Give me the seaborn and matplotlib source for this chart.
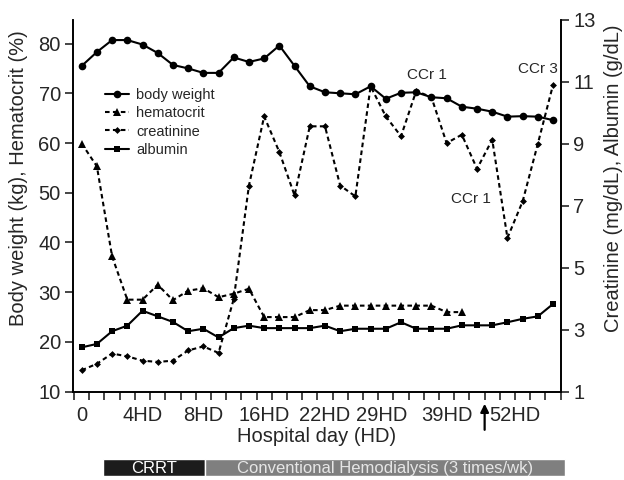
import matplotlib
matplotlib.use("Agg")
import matplotlib.pyplot as plt
import seaborn as sns

# hospital day index (one point per measurement)
day = list(range(32))

body_weight = [75.5, 78.3, 80.7, 80.7, 79.8, 78.1, 75.7, 75.0, 74.1, 74.1, 77.2, 76.3,
               77.0, 79.6, 75.5, 71.4, 70.2, 70.0, 69.8, 71.4, 68.9, 70.1, 70.2, 69.2,
               69.0, 67.3, 66.9, 66.3, 65.3, 65.4, 65.3, 64.6]
hematocrit = [59.9, 55.3, 37.2, 28.5, 28.5, 31.5, 28.4, 30.3, 30.8, 29.0, 29.7, 30.7,
              25.0, 25.0, 25.0, 26.4, 26.4, 27.3, 27.3, 27.3, 27.3, 27.3, 27.3, 27.3,
              26.0, 26.0]
creatinine = [1.69, 1.90, 2.23, 2.14, 2.00, 1.96, 2.00, 2.33, 2.46, 2.25, 3.99, 7.65,
              9.88, 8.73, 7.33, 9.56, 9.56, 7.65, 7.30, 10.85, 9.88, 9.24, 10.70, 10.50,
              9.02, 9.29, 8.19, 9.13, 5.96, 7.14, 9.00, 10.90]
albumin = [2.43, 2.54, 2.95, 3.13, 3.61, 3.43, 3.25, 2.95, 3.03, 2.75, 3.05, 3.13,
           3.05, 3.05, 3.05, 3.05, 3.13, 2.95, 3.03, 3.03, 3.03, 3.24, 3.03, 3.03,
           3.03, 3.14, 3.14, 3.14, 3.24, 3.35, 3.43, 3.83]

# x tick labels (hand placed in the original)
tick_pos = [0, 4, 8, 12, 16, 19.75, 24, 28.5]
tick_labels = ["0", "4HD", "8HD", "16HD", "22HD", "29HD", "39HD", "52HD"]
arrow_day = 26.5

# CCr notes (day index, creatinine scale value)
ccr_labels = ["CCr 1", "CCr 1", "CCr 3"]
ccr_day = [22.7, 25.6, 30.0]
ccr_value = [11.2, 7.2, 11.4]

# treatment bar below the axis
phases = ["CRRT", "Conventional Hemodialysis (3 times/wk)"]
phase_start = [1.38, 8.1]
phase_end = [8.1, 31.8]
phase_colors = ["#1c1c1c", "#7f7f7f"]
phase_text = ["white", "#e6e6e6"]

sns.set_style("ticks")
plt.rcParams["font.family"] = ["Liberation Sans", "DejaVu Sans"]

fig = plt.figure(figsize=(6.24, 4.8), dpi=100)
ax = fig.add_axes([0.1175, 0.184, 0.781, 0.775])
ax2 = ax.twinx()

dash = (0, (2.2, 1.6))
sns.lineplot(x=day, y=body_weight, ax=ax, color="black", lw=1.5, marker="o",
             markersize=5.5, markeredgewidth=0, label="body weight", legend=False)
sns.lineplot(x=day[:len(hematocrit)], y=hematocrit, ax=ax, color="black", lw=1.5,
             linestyle=dash, marker="^", markersize=6, markeredgewidth=0,
             label="hematocrit", legend=False)
sns.lineplot(x=day, y=creatinine, ax=ax2, color="black", lw=1.5, linestyle=dash,
             marker="D", markersize=3.5, markeredgewidth=0, label="creatinine", legend=False)
sns.lineplot(x=day, y=albumin, ax=ax2, color="black", lw=1.5, marker="s",
             markersize=5, markeredgewidth=0, label="albumin", legend=False)

ax.set_xlim(-0.55, 31.5)
ax.set_ylim(10, 84.8)
ax2.set_ylim(1, 13)
ax.set_yticks(range(10, 81, 10))
ax2.set_yticks(range(1, 14, 2))

# major ticks: one per measurement, between points; labels as minor ticks
ax.xaxis.remove_overlapping_locs = False
ax.set_xticks([d - 0.5 for d in day] + [31.5])
ax.set_xticklabels([])
ax.set_xticks(tick_pos, tick_labels, minor=True)
ax.tick_params(axis="x", which="major", length=6, width=1.2, direction="out")
ax.tick_params(axis="x", which="minor", length=0, pad=10, labelsize=14.5)
ax.tick_params(axis="y", length=6, width=1.2, labelsize=14.5, pad=3)
ax2.tick_params(axis="y", length=6, width=1.2, labelsize=14.5, pad=3)

for a in (ax, ax2):
    a.spines["top"].set_visible(False)
    for s in ("left", "right", "bottom"):
        a.spines[s].set_linewidth(1.2)
        a.spines[s].set_color("black")

ax.set_xlabel("Hospital day (HD)", fontsize=14.5, labelpad=2)
ax.set_ylabel("Body weight (kg), Hematocrit (%)", fontsize=14.5)
ax2.set_ylabel("Creatinine (mg/dL), Albumin (g/dL)", fontsize=14.5)
ax.yaxis.set_label_coords(-0.092, 0.574)
ax2.yaxis.set_label_coords(1.088, 0.574)

for lab, d, v in zip(ccr_labels, ccr_day, ccr_value):
    ax2.text(d, v, lab, ha="center", va="center", fontsize=11)

ax.annotate("", xy=(arrow_day, -0.025), xytext=(arrow_day, -0.11),
            xycoords=("data", "axes fraction"), textcoords=("data", "axes fraction"),
            arrowprops=dict(arrowstyle="-|>", color="black", lw=1.6, mutation_scale=12),
            annotation_clip=False)

h1, l1 = ax.get_legend_handles_labels()
h2, l2 = ax2.get_legend_handles_labels()
ax2.legend(h1 + h2, l1 + l2, loc="center left", bbox_to_anchor=(0.066, 0.724),
           frameon=False, fontsize=10.5, handlelength=1.6, handletextpad=0.5,
           labelspacing=0.3, borderpad=0, borderaxespad=0)

# treatment bar
bar_ax = fig.add_axes([0.1175, 4 / 480, (578 - 73.3) / 624, 17 / 480])
bar_ax.set_xlim(-0.55, 31.5 + (578 - 560.7) * 32 / 487.4)
bar_ax.set_ylim(0, 1)
bar_ax.axis("off")
for name, s, e, c, tc in zip(phases, phase_start, phase_end, phase_colors, phase_text):
    bar_ax.barh(0.5, e - s, left=s, height=1, color=c)
    bar_ax.text((s + e) / 2, 0.45, name, ha="center", va="center", color=tc, fontsize=12)

fig.savefig("out.png", dpi=100)
